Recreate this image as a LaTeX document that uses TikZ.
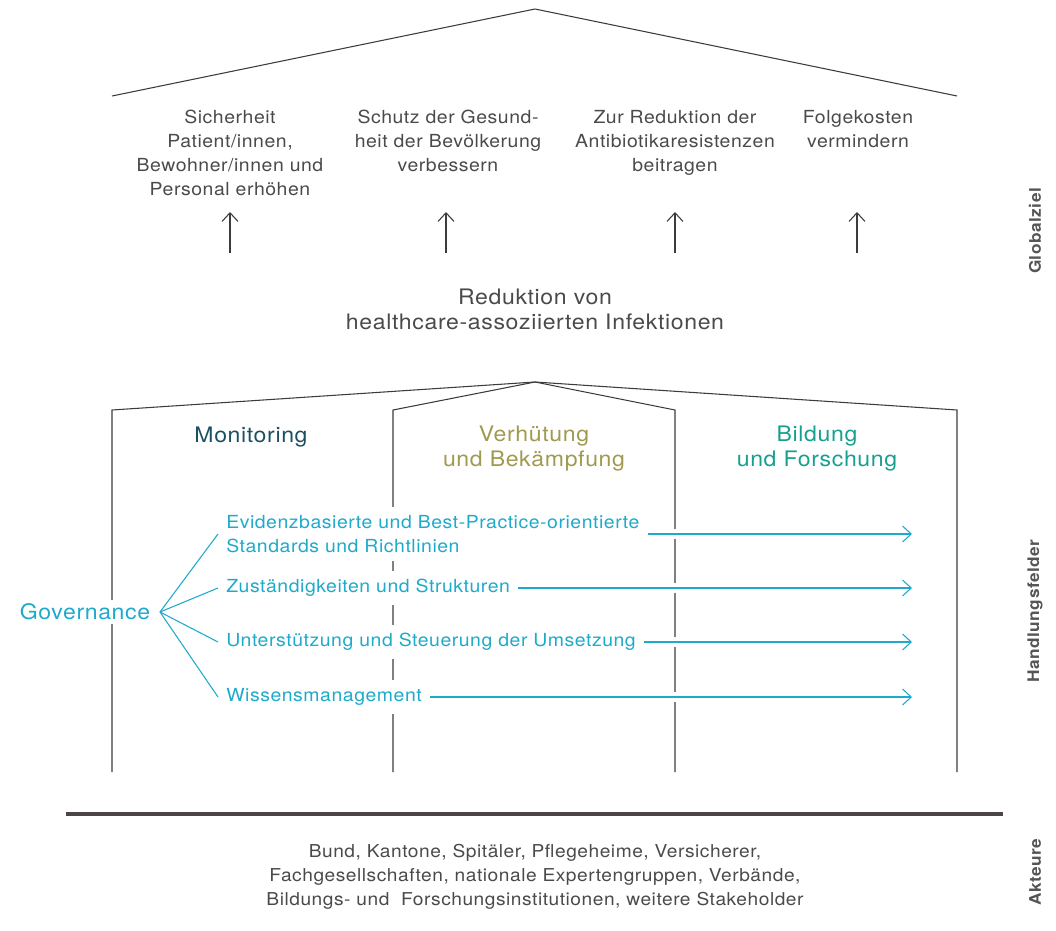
\documentclass[tikz,border=0pt]{standalone}
\usepackage{fontspec}
\setmainfont[FakeStretch=1.08, LetterSpace=3]{TeX Gyre Heros}
\usetikzlibrary{arrows.meta}
\definecolor{linegray}{HTML}{3C3C3C}
\definecolor{txtgray}{HTML}{4A4A4A}
\definecolor{sidegray}{HTML}{555555}
\definecolor{barcol}{HTML}{4B4545}
\definecolor{monblue}{HTML}{1C4F62}
\definecolor{verolive}{HTML}{A09A4E}
\definecolor{bilgreen}{HTML}{17A08F}
\definecolor{govcyan}{HTML}{1EAACB}
\begin{document}
\begin{tikzpicture}[x=0.75pt,y=-0.75pt,
    wall/.style={draw=linegray, line width=0.8pt},
    goal/.style={align=center, text=txtgray, inner sep=0pt, anchor=north, font=\fontsize{13.5}{18}\selectfont},
    big/.style={align=center, inner sep=0pt, font=\fontsize{16}{18.75}\selectfont},
    upar/.style={draw=linegray, line width=0.8pt, -{Straight Barb[length=6.5pt,width=12pt]}},
    branch/.style={anchor=west, align=left, text=govcyan, fill=white, inner sep=6pt, font=\fontsize{13.5}{18}\selectfont},
    govline/.style={draw=govcyan, line width=0.8pt},
    govarrow/.style={govline, preaction={draw=white, line width=8pt, arrows=-}, -{Straight Barb[length=6.5pt,width=12pt]}},
    side/.style={rotate=90, text=sidegray, inner sep=0pt, font=\fontsize{12}{14}\selectfont\bfseries}]
\useasboundingbox (0,0) rectangle (1056,931);

% upper roof
\draw[wall] (112,96) -- (535,9) -- (957,96);

% goals
\node[goal] (g1) at (230,110) {Sicherheit\\Patient/innen,\\Bewohner/innen und\\Personal erhöhen};
\node[goal] (g2) at (448,110) {Schutz der Gesund-\\heit der Bevölkerung\\verbessern};
\node[goal] (g3) at (675,110) {Zur Reduktion der\\Antibiotikaresistenzen\\beitragen};
\node[goal] (g4) at (858,110) {Folgekosten\\vermindern};

\foreach \x/\n in {230/1,446/2,675/3,857/4}{
  \coordinate (b\n) at (\x,253);
  \coordinate (t\n) at (\x,212);
  \draw[upar] (b\n) -- (t\n);
}

\node[big, text=txtgray] (hai) at (535,309) {Reduktion von\\healthcare-assoziierten Infektionen};

% lower roof and walls
\draw[wall] (112,772) -- (112,410) -- (535,382) -- (957,410) -- (957,772);
\draw[wall] (393,772) -- (393,410) -- (535,382) -- (675,410) -- (675,772);

\node[big, text=monblue] (mon) at (251,437) {Monitoring};
\node[big, text=verolive] (ver) at (534,449) {Verhütung\\und Bekämpfung};
\node[big, text=bilgreen] (bil) at (817,449) {Bildung\\und Forschung};

% governance
\node[big, text=govcyan, fill=white, inner sep=3pt] (gov) at (85,612) {Governance};
\coordinate (fan) at (160,612);
\coordinate (tip) at (912,0);

\node[branch] (r1) at (218,534) {Evidenzbasierte und Best-Practice-orientierte\\Standards und Richtlinien};
\node[branch] (r2) at (218,588) {Zuständigkeiten und Strukturen};
\node[branch] (r3) at (218,642) {Unterstützung und Steuerung der Umsetzung};
\node[branch] (r4) at (218,697) {Wissensmanagement};

\foreach \r/\s in {r1/2.25pt,r2/1.5pt,r3/1.5pt,r4/1.5pt}{
  \draw[govline] (fan) -- (\r.west);
  \draw[govarrow, yshift=\s] (\r.east) -- (\r.east -| tip);
}

% actors
\draw[draw=barcol, line width=2.3pt] (66,814) -- (1003,814);
\node[align=center, text=txtgray, inner sep=0pt, font=\fontsize{13.3}{17.8}\selectfont] (akt) at (535,877)
  {Bund, Kantone, Spitäler, Pflegeheime, Versicherer,\\Fachgesellschaften, nationale Expertengruppen, Verbände,\\Bildungs- und\ \ Forschungsinstitutionen, weitere Stakeholder};

% side labels
\node[side] (s1) at (1035,231) {Globalziel};
\node[side] (s2) at (1035,611) {Handlungsfelder};
\node[side] (s3) at (1035,872) {Akteure};
\end{tikzpicture}
\end{document}
